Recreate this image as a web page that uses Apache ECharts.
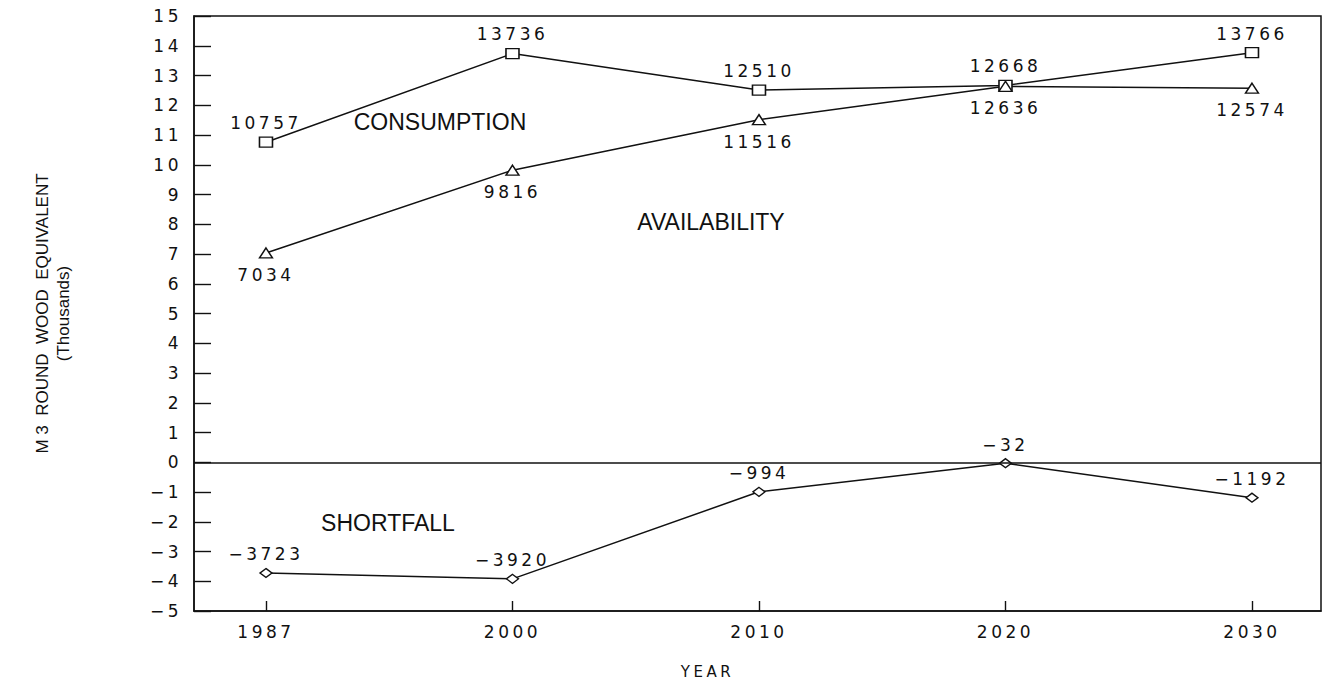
<!DOCTYPE html>
<html>
<head>
<meta charset="utf-8">
<title>Round wood consumption, availability and shortfall</title>
<script src="https://cdn.jsdelivr.net/npm/echarts@6/dist/echarts.min.js"></script>
<style>
  html, body { margin: 0; padding: 0; background: #fff; }
  #chart { width: 1323px; height: 684px; }
  /* plotter style digits are widely spaced */
  #chart text[style*="DejaVu"] { letter-spacing: 3.5px; }
</style>
</head>
<body>
<div id="chart"></div>
<script>
// values in m3 round wood equivalent, axis in thousands
const years = ['1987', '2000', '2010', '2020', '2030'];
const consumption = [10757, 13736, 12510, 12668, 13766];
const availability = [7034, 9816, 11516, 12636, 12574];
const shortfall = [-3723, -3920, -994, -32, -1192];

const INK = '#111';
const PLOT_FONT = 'DejaVu Sans';
const TEXT_FONT = 'Liberation Sans';

const chart = echarts.init(document.getElementById('chart'), null, { renderer: 'svg' });

function minus(v) {
    return v < 0 ? '\u2212' + (-v) : String(v);
}

function toPoints(arr) {
    return arr.map((v, i) => [i, v / 1000]);
}

function lineSeries(name, arr, symbol, size, labelPos, dist) {
    return {
        name: name,
        type: 'line',
        data: toPoints(arr),
        symbol: symbol,
        symbolSize: size,
        showAllSymbol: true,
        lineStyle: { color: INK, width: 1.5 },
        itemStyle: { color: '#fff', borderColor: INK, borderWidth: 1.4 },
        label: {
            show: true,
            position: labelPos,
            distance: dist,
            fontFamily: PLOT_FONT,
            fontSize: 17,
            color: INK,
            formatter: p => minus(Math.round(p.value[1] * 1000))
        },
        emphasis: { disabled: true }
    };
}

const shortSeries = lineSeries('Shortfall', shortfall, 'diamond', [12, 9], 'top', 5);
shortSeries.markLine = {
    silent: true,
    symbol: 'none',
    label: { show: false },
    lineStyle: { color: INK, width: 1.5, type: 'solid' },
    data: [{ yAxis: 0 }]
};

chart.setOption({
    animation: false,
    backgroundColor: '#fff',
    grid: {
        left: 194, right: 2, top: 16, bottom: 72,
        show: true, borderColor: INK, borderWidth: 1.5
    },
    xAxis: {
        type: 'value',
        min: -0.292,
        max: 4.28,
        axisLine: { show: true, onZero: false, lineStyle: { color: INK, width: 1.5 } },
        axisTick: {
            show: true, inside: true, length: 10,
            customValues: [0, 1, 2, 3, 4],
            lineStyle: { color: INK, width: 1.4 }
        },
        axisLabel: {
            customValues: [0, 1, 2, 3, 4],
            formatter: v => years[Math.round(v)],
            margin: 12,
            fontFamily: PLOT_FONT,
            fontSize: 17,
            color: INK
        },
        splitLine: { show: false },
        name: 'YEAR',
        nameLocation: 'middle',
        nameGap: 53,
        nameTextStyle: {
            fontFamily: PLOT_FONT, fontSize: 15, color: INK,
            padding: [0, 100, 0, 0]
        }
    },
    yAxis: {
        type: 'value',
        min: -5,
        max: 15,
        interval: 1,
        axisLine: { show: true, onZero: false, lineStyle: { color: INK, width: 1.5 } },
        axisTick: { show: true, inside: true, length: 17, lineStyle: { color: INK, width: 1.4 } },
        axisLabel: {
            margin: 12,
            fontFamily: PLOT_FONT,
            fontSize: 17,
            color: INK,
            formatter: v => minus(v)
        },
        splitLine: { show: false },
        name: 'M 3\u00a0 ROUND\u00a0 WOOD\u00a0 EQUIVALENT\n(Thousands)',
        nameLocation: 'middle',
        nameRotate: 90,
        nameGap: 120,
        nameTextStyle: { fontFamily: TEXT_FONT, fontSize: 17, lineHeight: 21, color: INK }
    },
    series: [
        lineSeries('Consumption', consumption, 'rect', [13, 10], 'top', 5),
        lineSeries('Availability', availability, 'triangle', [13, 10], 'bottom', 8),
        shortSeries
    ],
    graphic: [
        { type: 'text', x: 440, y: 122, style: { text: 'CONSUMPTION', font: '23px "Liberation Sans"', fill: INK, textAlign: 'center', textVerticalAlign: 'middle' } },
        { type: 'text', x: 711, y: 222, style: { text: 'AVAILABILITY', font: '23px "Liberation Sans"', fill: INK, textAlign: 'center', textVerticalAlign: 'middle' } },
        { type: 'text', x: 388, y: 523, style: { text: 'SHORTFALL', font: '23px "Liberation Sans"', fill: INK, textAlign: 'center', textVerticalAlign: 'middle' } }
    ]
});
</script>
</body>
</html>
